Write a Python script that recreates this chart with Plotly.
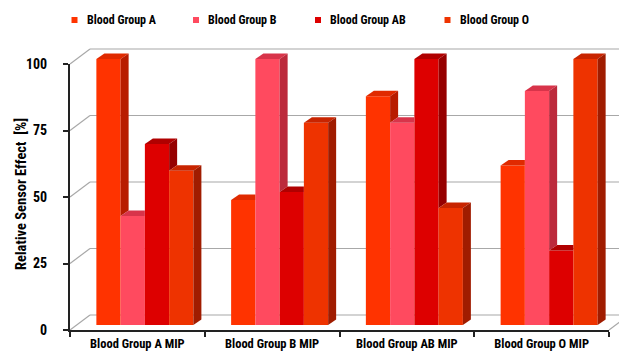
import plotly.graph_objects as go

# ---- data -------------------------------------------------------------
categories = ["Blood Group A MIP", "Blood Group B MIP", "Blood Group AB MIP", "Blood Group O MIP"]
series_names = ["Blood Group A", "Blood Group B", "Blood Group AB", "Blood Group O"]
group_a = [100, 47, 86, 60]
group_b = [41, 100, 76, 88]
group_ab = [68, 50, 100, 28]
group_o = [58, 76, 44, 100]
y_ticks = [0, 25, 50, 75, 100]

series_values = [group_a, group_b, group_ab, group_o]

# face colours: front, top, side
front_colors = ["#FF3300", "#FF4A5F", "#DD0000", "#EE3300"]
top_colors = ["#E02A00", "#D8344A", "#B00000", "#C82400"]
side_colors = ["#B81C00", "#BC2A3C", "#960000", "#A01C00"]

# ---- geometry (pixels) --------------------------------------------------
W, H = 619, 353
FRONT_X = (70, 609)          # front plane, left/right
FRONT_Y = (330, 64)          # value 0 / value 100
WALL_DX, WALL_DY = 20, -15   # depth of the floor / back wall
BAR_DX, BAR_DY = 7.5, -5     # where the bar fronts sit inside the depth
FACE_DX, FACE_DY = 8, 5.5    # thickness of each bar
BAR_YMAX = 112               # head-room so the top faces are not clipped

FONT = "Roboto Condensed, Liberation Sans Narrow, Arial Narrow, Liberation Sans, Arial"
GRID = "#A8A8A8"


def px(x):
    return x / W


def py(y):
    return (H - y) / H


x_units_px = (FRONT_X[1] - FRONT_X[0]) / len(categories)
y_units_px = (FRONT_Y[0] - FRONT_Y[1]) / 100.0
ddx = FACE_DX / x_units_px
ddy = FACE_DY / y_units_px
bw = 0.18

fig = go.Figure()

# front faces of the bars
for j, (name, vals) in enumerate(zip(series_names, series_values)):
    xs = [i + (j - 1.5) * bw for i in range(len(categories))]
    fig.add_trace(go.Bar(
        x=xs, y=vals, width=bw, name=name, showlegend=False,
        marker=dict(color=front_colors[j], line=dict(width=0)),
        xaxis="x2", yaxis="y2", hoverinfo="skip",
    ))

# top and side faces, trimmed where the neighbouring bar hides them
for j, vals in enumerate(series_values):
    for i, v in enumerate(vals):
        xc = i + (j - 1.5) * bw
        xl, xr = xc - bw / 2, xc + bw / 2
        nxt = series_values[j + 1][i] if j < len(series_values) - 1 else None
        if nxt is not None and nxt > v:
            tx = [xl, xr, xr, xl + ddx, xl]
        else:
            tx = [xl, xr, xr + ddx, xl + ddx, xl]
        ty = [v, v, v + ddy, v + ddy, v]
        fig.add_trace(go.Scatter(
            x=tx, y=ty, fill="toself", mode="none", fillcolor=top_colors[j],
            xaxis="x2", yaxis="y2", showlegend=False, hoverinfo="skip",
        ))
        if nxt is None or nxt < v:
            base = 0 if nxt is None else nxt
            sx = [xr, xr, xr + ddx, xr + ddx, xr]
            sy = [base, v, v + ddy, base + ddy, base]
            fig.add_trace(go.Scatter(
                x=sx, y=sy, fill="toself", mode="none", fillcolor=side_colors[j],
                xaxis="x2", yaxis="y2", showlegend=False, hoverinfo="skip",
            ))

# back-wall gridlines and the edges joining the front scale to the back wall
shapes = []
for t in y_ticks:
    yf = FRONT_Y[0] - t * y_units_px
    shapes.append(dict(type="line", xref="paper", yref="paper",
                       x0=px(FRONT_X[0]), y0=py(yf),
                       x1=px(FRONT_X[0] + WALL_DX), y1=py(yf + WALL_DY),
                       line=dict(color=GRID, width=1.2), layer="below"))
    shapes.append(dict(type="line", xref="paper", yref="paper",
                       x0=px(FRONT_X[0] + WALL_DX), y0=py(yf + WALL_DY),
                       x1=1, y1=py(yf + WALL_DY),
                       line=dict(color=GRID, width=1.2), layer="below"))
shapes.append(dict(type="line", xref="paper", yref="paper",
                   x0=px(FRONT_X[1]), y0=py(FRONT_Y[0]),
                   x1=px(FRONT_X[1] + WALL_DX), y1=py(FRONT_Y[0] + WALL_DY),
                   line=dict(color=GRID, width=1.2), layer="below"))

# legend: colour swatch + label for each series
legend_swatch_x = [71.5, 193, 315, 444.5]
annotations = []
for j, name in enumerate(series_names):
    x0 = legend_swatch_x[j]
    shapes.append(dict(type="rect", xref="paper", yref="paper",
                       x0=px(x0), x1=px(x0 + 6), y0=py(23), y1=py(17),
                       fillcolor=front_colors[j], line=dict(width=0)))
    annotations.append(dict(xref="paper", yref="paper", x=px(x0 + 13), y=py(20),
                            xanchor="left", yanchor="middle", showarrow=False, text=name,
                            font=dict(family=FONT, size=12, color="#000", weight="bold")))

# value-axis title
annotations.append(dict(xref="paper", yref="paper", x=px(22), y=py(194),
                        xanchor="center", yanchor="middle", showarrow=False, textangle=-90,
                        text="Relative Sensor Effect  [%]",
                        font=dict(family=FONT, size=14.5, color="#000", weight="bold")))

fig.update_layout(
    width=W, height=H,
    margin=dict(l=0, r=0, t=0, b=0, autoexpand=False),
    paper_bgcolor="white", plot_bgcolor="rgba(0,0,0,0)",
    barmode="overlay",
    shapes=shapes,
    annotations=annotations,
    showlegend=False,
    # bars
    xaxis2=dict(domain=[px(FRONT_X[0] + BAR_DX), px(FRONT_X[1] + BAR_DX)], range=[-0.5, 3.5],
                visible=False, anchor="y2", fixedrange=True),
    yaxis2=dict(domain=[py(FRONT_Y[0] + BAR_DY),
                        py(FRONT_Y[0] + BAR_DY - BAR_YMAX * y_units_px)],
                range=[0, BAR_YMAX], visible=False, anchor="x2", fixedrange=True),
    # front axes with ticks and labels
    xaxis3=dict(domain=[px(FRONT_X[0]), px(FRONT_X[1])], type="category",
                categoryorder="array", categoryarray=categories, range=[-0.5, 3.5],
                anchor="y3", showline=True, linecolor="#222222", linewidth=2,
                ticks="outside", tickson="boundaries", ticklen=5, tickwidth=1.5,
                tickcolor="#222222", showgrid=False, tickangle=0, automargin=False,
                ticklabelstandoff=1,
                tickfont=dict(family=FONT, size=12.5, color="#000", weight="bold"),
                fixedrange=True),
    yaxis3=dict(domain=[py(FRONT_Y[0]), py(FRONT_Y[1])], range=[0, 100], anchor="x3",
                tickvals=y_ticks, showline=True, linecolor="#222222", linewidth=2,
                ticks="outside", ticklen=5, tickwidth=1.5, tickcolor="#222222",
                showgrid=False, zeroline=False, automargin=False, ticklabelstandoff=13,
                tickfont=dict(family=FONT, size=14, color="#000", weight="bold"),
                fixedrange=True),
)

# an invisible trace so the front category axis is drawn
fig.add_trace(go.Scatter(x=categories, y=[None] * len(categories), xaxis="x3", yaxis="y3",
                         mode="markers", showlegend=False, hoverinfo="skip"))

fig.write_html("out.html")
